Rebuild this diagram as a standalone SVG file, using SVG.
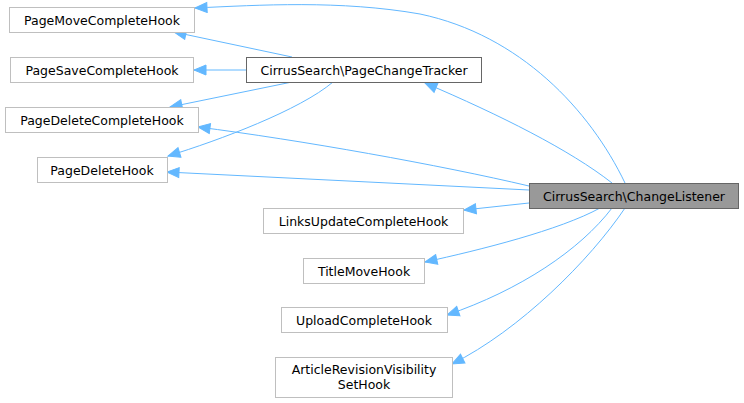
<svg xmlns="http://www.w3.org/2000/svg" width="744" height="403" viewBox="0 0 744 403">
<style>
.n rect{fill:#fff;stroke:#bfbfbf;stroke-width:1}
.n.m rect{stroke:#666}
.n.c rect{fill:#999;stroke:#666}
text{font-family:"DejaVu Sans",sans-serif;font-size:12.5px;fill:#000;text-anchor:middle}
.e path{fill:none;stroke:#63b8ff;stroke-width:1;marker-end:url(#a)}
</style>
<defs>
<marker id="a" markerUnits="userSpaceOnUse" markerWidth="15" markerHeight="12" refX="13" refY="6" orient="auto">
<path d="M1,1 L13,6 L1,11 z" fill="#63b8ff" stroke="#63b8ff" stroke-width="1"/>
</marker>
</defs>
<rect width="744" height="403" fill="#fff"/>
<g class="e" id="connectors">
<path d="M625,183 C590,110 520,35 420,14 C340,0 260,5 195,8"/>
<path d="M292,57 L174,32"/>
<path d="M246,70 L194,70"/>
<path d="M292,82 L170,107"/>
<path d="M333,82 C300,110 220,140 168,156"/>
<path d="M612,183 C570,150 500,115 425,83"/>
<path d="M529,186 C440,165 300,140 198,127"/>
<path d="M529,190 L167,172"/>
<path d="M529,203 L464,210"/>
<path d="M600,208 C560,230 480,250 425,262"/>
<path d="M612,208 C580,250 520,290 447,315"/>
<path d="M625,208 C590,260 520,330 452,364"/>
</g>
<g class="n" id="PageMoveCompleteHook"><rect x="9.5" y="7.5" width="185" height="25"/><text x="102" y="24.5">PageMoveCompleteHook</text></g>
<g class="n" id="PageSaveCompleteHook"><rect x="10.5" y="57.5" width="183" height="25"/><text x="102" y="74.5">PageSaveCompleteHook</text></g>
<g class="n" id="PageDeleteCompleteHook"><rect x="5.5" y="107.5" width="193" height="25"/><text x="102" y="124.5">PageDeleteCompleteHook</text></g>
<g class="n" id="PageDeleteHook"><rect x="37.5" y="157.5" width="130" height="25"/><text x="102" y="174.5">PageDeleteHook</text></g>
<g class="n m" id="PageChangeTracker"><rect x="246.5" y="57.5" width="235" height="25"/><text x="364" y="74.5">CirrusSearch\PageChangeTracker</text></g>
<g class="n c" id="ChangeListener"><rect x="529.5" y="183.5" width="209" height="25"/><text x="634" y="200.5">CirrusSearch\ChangeListener</text></g>
<g class="n" id="LinksUpdateCompleteHook"><rect x="263.5" y="208.5" width="200" height="25"/><text x="363.5" y="225.5">LinksUpdateCompleteHook</text></g>
<g class="n" id="TitleMoveHook"><rect x="303.5" y="258.5" width="121" height="25"/><text x="364" y="275.5">TitleMoveHook</text></g>
<g class="n" id="UploadCompleteHook"><rect x="281.5" y="307.5" width="166" height="25"/><text x="364" y="324.5">UploadCompleteHook</text></g>
<g class="n" id="ArticleRevisionVisibilitySetHook"><rect x="275.5" y="357.5" width="177" height="40"/><text x="364" y="373.5">ArticleRevisionVisibility</text><text x="364" y="388.5">SetHook</text></g>
</svg>
